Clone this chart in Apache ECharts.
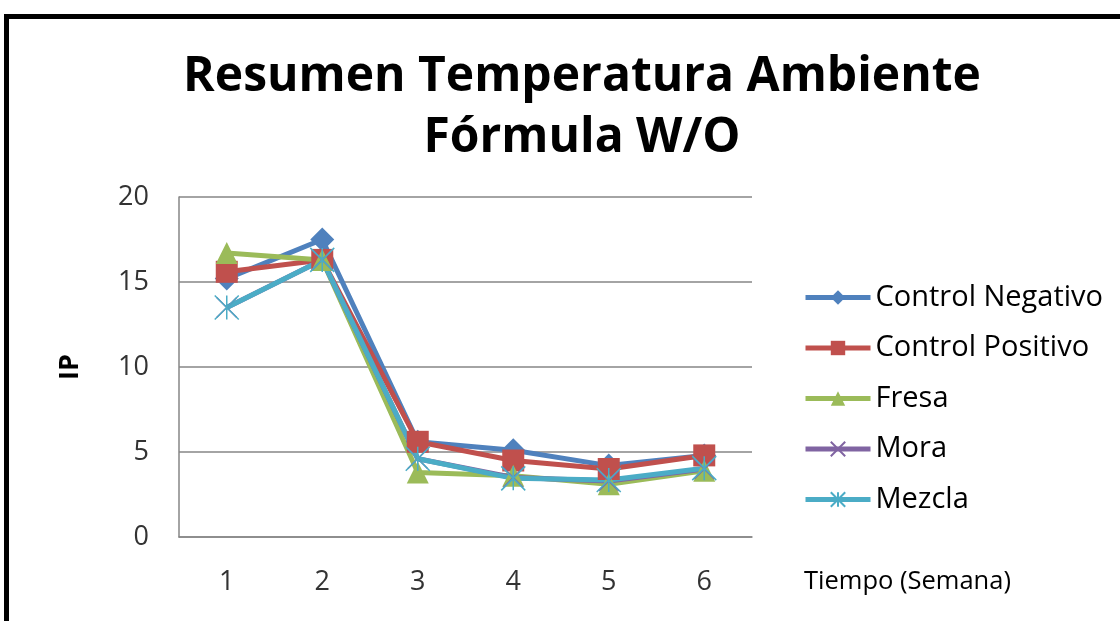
<!DOCTYPE html>
<html>
<head>
<meta charset="utf-8">
<script src="https://cdn.jsdelivr.net/npm/echarts@6/dist/echarts.min.js"></script>
<style>
html,body{margin:0;padding:0;background:#fff;}
#chart{width:1120px;height:621px;}
</style>
</head>
<body>
<div id="chart"></div>
<script>
const categories = ['1', '2', '3', '4', '5', '6'];
const controlNegativo = [15.2, 17.5, 5.6, 5.1, 4.2, 4.8];
const controlPositivo = [15.6, 16.3, 5.6, 4.5, 4.0, 4.8];
const fresa = [16.7, 16.3, 3.8, 3.6, 3.1, 3.9];
const mora = [13.5, 16.3, 4.6, 3.5, 3.3, 4.0];
const mezcla = [13.5, 16.3, 4.6, 3.45, 3.35, 4.05];
const yTicks = [0, 5, 10, 15, 20];

const FONT = 'Open Sans';
const xPath = 'path://M0,0L10,10M10,0L0,10';
const starPath = 'path://M5,0L5,10M0,0L10,10M10,0L0,10';

function mk(name, data, color, symbol, size, extra) {
  return Object.assign({
    name: name, type: 'line', data: data,
    symbol: symbol, symbolSize: size,
    lineStyle: {color: color, width: 5},
    itemStyle: {color: color},
    emphasis: {disabled: true}
  }, extra || {});
}

const chart = echarts.init(document.getElementById('chart'));
chart.setOption({
  animation: false,
  backgroundColor: '#fff',
  title: {
    text: 'Resumen Temperatura Ambiente\nFórmula W/O',
    left: 577, top: 42, textAlign: 'center',
    textStyle: {fontFamily: FONT, fontWeight: 'bold', fontSize: 48, lineHeight: 61, color: '#000'}
  },
  legend: {
    orient: 'vertical', left: 798, top: 278,
    itemWidth: 65, itemHeight: 18, itemGap: 21.5,
    lineStyle: {width: 5},
    textStyle: {fontFamily: FONT, fontSize: 29, color: '#000'},
    data: ['Control Negativo', 'Control Positivo', 'Fresa', 'Mora', 'Mezcla']
  },
  grid: {left: 179, top: 197, width: 573, height: 340},
  xAxis: {
    type: 'category', data: categories, boundaryGap: true,
    axisLine: {lineStyle: {color: '#868686', width: 1.5}},
    axisTick: {show: false},
    axisLabel: {fontFamily: FONT, fontSize: 27, color: '#333', margin: 32}
  },
  yAxis: {
    type: 'value', min: yTicks[0], max: yTicks[yTicks.length - 1], interval: 5,
    name: 'IP', nameLocation: 'middle', nameGap: 95, nameRotate: 90,
    nameTextStyle: {fontFamily: FONT, fontWeight: 'bold', fontSize: 27, color: '#000'},
    axisLine: {show: true, lineStyle: {color: '#868686', width: 1.5}},
    axisTick: {show: false},
    splitLine: {lineStyle: {color: '#868686', width: 1.5}},
    axisLabel: {fontFamily: FONT, fontSize: 27, color: '#333', margin: 30}
  },
  graphic: [
    {type: 'text', left: 804, top: 569, style: {text: 'Tiempo (Semana)', font: '25.5px "Open Sans"', fill: '#000'}},
    {type: 'rect', shape: {x: 6.5, y: 16.5, width: 1200, height: 700}, style: {fill: 'none', stroke: '#000', lineWidth: 5}}
  ],
  series: [
    mk('Control Negativo', controlNegativo, '#4F81BD', 'diamond', 24),
    mk('Control Positivo', controlPositivo, '#C0504D', 'rect', 22),
    mk('Fresa', fresa, '#9BBB59', 'triangle', 22),
    mk('Mora', mora, '#8064A2', xPath, 20, {itemStyle: {color: '#8064A2', borderColor: '#8064A2', borderWidth: 1.5}}),
    mk('Mezcla', mezcla, '#4BACC6', starPath, 24, {itemStyle: {color: '#4BACC6', borderColor: '#4BACC6', borderWidth: 1.5}})
  ]
});
</script>
</body>
</html>
